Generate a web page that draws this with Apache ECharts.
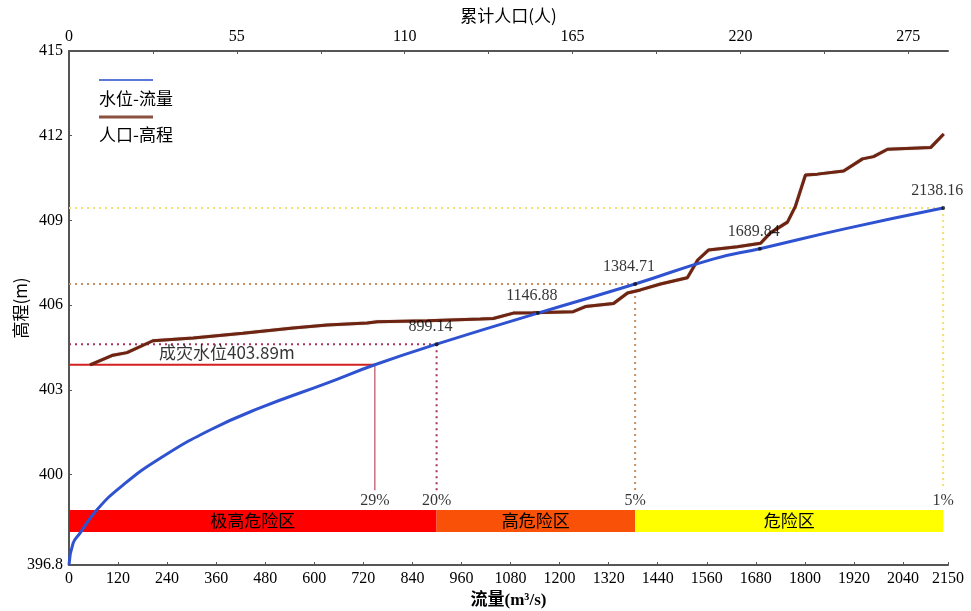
<!DOCTYPE html>
<html>
<head>
<meta charset="utf-8">
<title>水位-流量 / 人口-高程</title>
<script src="https://cdn.jsdelivr.net/npm/echarts@6/dist/echarts.min.js"></script>
<style>
html, body { margin: 0; padding: 0; background: #fff; }
#main { width: 971px; height: 611px; }
</style>
</head>
<body>
<div id="main"></div>
<script>
// 水位-流量 (下轴流量, 左轴高程)
var flowQ = [0, 10, 27, 68, 132, 223, 345, 467, 631, 748, 899.14, 1146.88, 1384.71, 1575, 1689.84, 1900, 2138.16];
var flowH = [396.8, 397.57, 397.93, 398.75, 399.63, 400.58, 401.58, 402.36, 403.24, 403.89, 404.62, 405.72, 406.75, 407.63, 408.0, 408.71, 409.44];

// 人口-高程 (上轴累计人口)
var popN = [6.9, 14.4, 19, 27.5, 40.7, 57, 73.4, 84.6, 97.7, 101, 117.4, 134.8, 139, 145.6, 152, 165.2, 169.2, 178.4, 183, 187.2, 193.8, 202.6, 206, 209.5, 219, 226.6, 229.8, 235.4, 238, 241.3, 245.2, 253.8, 260, 263.6, 268.2, 282.3, 286.6];
var popH = [403.89, 404.23, 404.32, 404.74, 404.84, 405.01, 405.19, 405.30, 405.37, 405.41, 405.45, 405.51, 405.53, 405.72, 405.73, 405.77, 405.95, 406.06, 406.43, 406.54, 406.75, 406.97, 407.6, 407.95, 408.07, 408.19, 408.56, 408.94, 409.5, 410.61, 410.64, 410.75, 411.18, 411.26, 411.52, 411.58, 412.06];

// 频率线
var riskQ = [748, 899.14, 1384.71, 2138.16];
var riskH = [403.89, 404.62, 406.75, 409.44];
var riskPct = ['29%', '20%', '5%', '1%'];

// 标注点
var pointQ = [899.14, 1146.88, 1384.71, 1689.84, 2138.16];
var pointH = [404.62, 405.72, 406.75, 408.0, 409.44];

// 危险区
var zoneNames = ['极高危险区', '高危险区', '危险区'];
var zoneEdges = [0, 899.14, 1384.71, 2138.16];

var disasterLevel = 403.89;

// 坐标轴刻度
var qTicks = [0, 120, 240, 360, 480, 600, 720, 840, 960, 1080, 1200, 1320, 1440, 1560, 1680, 1800, 1920, 2040, 2150];
var popTicks = [0, 55, 110, 165, 220, 275];
var popMinor = [0, 27.5, 55, 82.5, 110, 137.5, 165, 192.5, 220, 247.5, 275];
var hTicks = [396.8, 400, 403, 406, 409, 412, 415];

var numFont = 'Liberation Serif, Noto Sans CJK SC, serif';
var cjkFont = 'Noto Sans CJK SC, Liberation Serif, sans-serif';
var dropH = 399.45;
var zoneLow = 397.97, zoneHigh = 398.75;

var chart = echarts.init(document.getElementById('main'));

function pairs(xs, ys) {
  return xs.map(function (x, i) { return [x, ys[i]]; });
}
function plain(v) { return String(v); }

var axisLineStyle = { lineStyle: { color: '#555', width: 2 } };

var series = [];

// 危险区色带
var zoneColors = ['#ff0000', '#f95208', '#ffff00'];
series.push({
  type: 'line',
  data: [],
  z: 10,
  markArea: {
    silent: true,
    label: { show: true, position: 'inside', color: '#000', fontSize: 17, fontFamily: cjkFont },
    data: zoneNames.map(function (n, i) {
      return [
        { name: n, xAxis: zoneEdges[i], yAxis: zoneLow, itemStyle: { color: zoneColors[i], opacity: 1 } },
        { xAxis: zoneEdges[i + 1], yAxis: zoneHigh }
      ];
    })
  }
});

// 频率参考线
var refStyles = [
  { h: { color: '#d42020', width: 2, type: 'solid' }, v: { color: '#c87080', width: 1.5, type: 'solid' } },
  { h: { color: '#a8305c', width: 2, type: [2, 4] }, v: { color: '#a8305c', width: 2, type: [2, 4] } },
  { h: { color: '#c89060', width: 2, type: [2, 4] }, v: { color: '#c89060', width: 2, type: [2, 4] } },
  { h: { color: '#f0e070', width: 2, type: [2, 4] }, v: { color: '#f0e070', width: 2, type: [2, 4] } }
];
riskQ.forEach(function (q, i) {
  series.push({
    type: 'line', symbol: 'none', silent: true, z: 3,
    lineStyle: refStyles[i].h,
    data: [[0, riskH[i]], [q, riskH[i]]]
  });
  series.push({
    type: 'line', symbol: 'none', silent: true, z: 3,
    lineStyle: refStyles[i].v,
    data: [[q, riskH[i]], [q, dropH]]
  });
});

// 百分比标签
series.push({
  type: 'scatter', symbolSize: 0, z: 12,
  data: riskQ.map(function (q, i) { return { value: [q, dropH], label: { formatter: riskPct[i] } }; }),
  label: { show: true, position: 'bottom', distance: 3, color: '#000', fontSize: 16, fontFamily: numFont }
});

// 成灾水位标签
series.push({
  type: 'scatter', symbolSize: 0, z: 12,
  data: [[386, disasterLevel]],
  label: {
    show: true, position: 'top', distance: 4, color: '#000', fontSize: 17, fontFamily: cjkFont,
    formatter: '成灾水位' + disasterLevel + 'm'
  }
});

// 水位-流量曲线
series.push({
  name: '水位-流量', type: 'line', xAxisIndex: 0, smooth: true, symbol: 'none', z: 5,
  lineStyle: { color: '#2f52d0', width: 3 },
  data: pairs(flowQ, flowH)
});

// 人口-高程曲线
series.push({
  name: '人口-高程', type: 'line', xAxisIndex: 1, symbol: 'none', z: 4,
  lineStyle: { color: '#6e2410', width: 3, shadowColor: 'rgba(60,20,0,0.5)', shadowBlur: 1 },
  data: pairs(popN, popH)
});

// 流量标注点
series.push({
  type: 'scatter', symbolSize: 4, z: 13,
  itemStyle: { color: '#111' },
  data: pairs(pointQ, pointH),
  label: {
    show: true, position: 'top', distance: 7, offset: [-6, 0], color: '#000', fontSize: 16, fontFamily: numFont,
    formatter: function (p) { return p.value[0].toFixed(2); }
  }
});

var option = {
  backgroundColor: '#fff',
  animation: false,
  grid: { left: 69, right: 23, top: 51, bottom: 46, containLabel: false, outerBoundsMode: 'none' },
  xAxis: [
    {
      type: 'value', position: 'bottom', min: 0, max: 2150,
      name: '流量(m³/s)', nameLocation: 'middle', nameGap: 27,
      nameTextStyle: { fontSize: 17, color: '#000', fontFamily: numFont, fontWeight: 'bold' },
      axisLine: axisLineStyle,
      axisTick: { inside: true, length: 3, customValues: qTicks, lineStyle: { color: '#555' } },
      axisLabel: { customValues: qTicks, margin: 6, fontSize: 16, color: '#000', fontFamily: numFont, formatter: plain },
      splitLine: { show: false }
    },
    {
      type: 'value', position: 'top', min: 0, max: 288,
      name: '累计人口(人)', nameLocation: 'middle', nameGap: 26,
      nameTextStyle: { fontSize: 17, color: '#000', fontFamily: cjkFont },
      axisLine: axisLineStyle,
      axisTick: { inside: true, length: 3, customValues: popMinor, lineStyle: { color: '#555' } },
      axisLabel: { customValues: popTicks, margin: 6, fontSize: 16, color: '#000', fontFamily: numFont, formatter: plain },
      splitLine: { show: false }
    }
  ],
  yAxis: {
    type: 'value', min: 396.8, max: 415,
    name: '高程(m)', nameLocation: 'middle', nameGap: 40, nameMoveOverlap: false,
    nameTextStyle: { fontSize: 17, color: '#000', fontFamily: cjkFont },
    axisLine: axisLineStyle,
    axisTick: { inside: true, length: 3, customValues: hTicks, lineStyle: { color: '#555' } },
    axisLabel: { customValues: hTicks, margin: 6, fontSize: 16, color: '#000', fontFamily: numFont, formatter: plain },
    splitLine: { show: false }
  },
  graphic: [
    { type: 'line', shape: { x1: 99, y1: 80, x2: 153, y2: 80 }, style: { stroke: '#5a78d8', lineWidth: 2 } },
    { type: 'text', left: 99, top: 90, style: { text: '水位-流量', fontSize: 17, fill: '#000', fontFamily: cjkFont } },
    { type: 'line', shape: { x1: 99, y1: 117, x2: 153, y2: 117 }, style: { stroke: '#8a5040', lineWidth: 3 } },
    { type: 'text', left: 99, top: 126, style: { text: '人口-高程', fontSize: 17, fill: '#000', fontFamily: cjkFont } }
  ],
  series: series
};

chart.setOption(option);
</script>
</body>
</html>
